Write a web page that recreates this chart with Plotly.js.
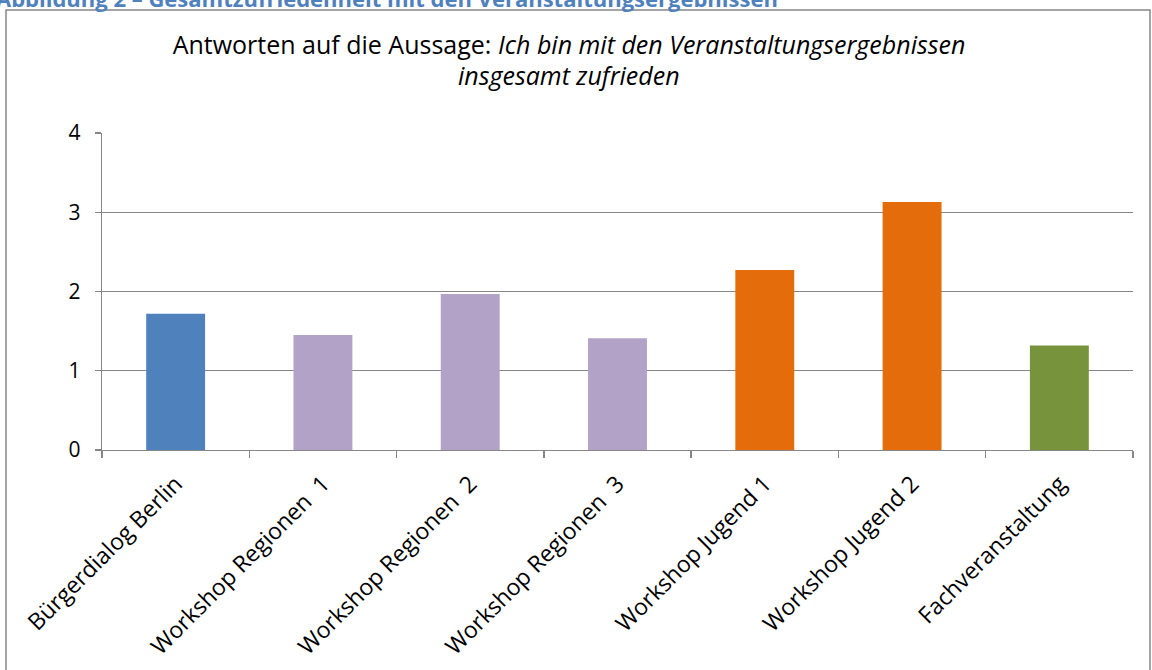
<!DOCTYPE html>
<html>
<head>
<meta charset="utf-8">
<script src="https://cdn.plot.ly/plotly-3.0.1.min.js"></script>
<style>html,body{margin:0;padding:0;background:#fff;}#chart{width:1152px;height:670px;}</style>
</head>
<body>
<div id="chart"></div>
<script>
const categories = ["Bürgerdialog Berlin", "Workshop Regionen\u00A0\u00A01", "Workshop Regionen\u00A0\u00A02", "Workshop Regionen\u00A0\u00A03", "Workshop Jugend 1", "Workshop Jugend 2", "Fachveranstaltung"];
const values = [1.72, 1.45, 1.97, 1.41, 2.27, 3.13, 1.32];
const barColors = ["#4F81BD", "#B2A2C7", "#B2A2C7", "#B2A2C7", "#E46C0A", "#E46C0A", "#77933C"];
const yTicks = [0, 1, 2, 3, 4];
const titleLine1 = "Antworten auf die Aussage: <i>Ich bin mit den Veranstaltungsergebnissen</i>";
const titleLine2 = "<i>insgesamt zufrieden</i>";
const figureCaption = "<b>Abbildung 2 – Gesamtzufriedenheit mit den Veranstaltungsergebnissen</b>";

const W = 1152, H = 670;
const L = 102, R = 19, T = 133, B = 220;
const pw = W - L - R, ph = H - T - B;
function px(x){ return (x - L) / pw; }
function py(y){ return (H - B - y) / ph; }

const font = "'Open Sans', sans-serif";
const grey = "#868686";

Plotly.newPlot("chart", [{
  type: "bar",
  x: categories,
  y: values,
  marker: {color: barColors},
  hoverinfo: "skip"
}], {
  width: W, height: H,
  margin: {l: L, r: R, t: T, b: B, pad: 0},
  paper_bgcolor: "#fff", plot_bgcolor: "#fff",
  bargap: 0.6,
  showlegend: false,
  font: {family: font, color: "#000"},
  title: {
    text: titleLine1,
    font: {size: 25, family: font, color: "#000"},
    x: 569 / W, xanchor: "center",
    y: 1 - 45 / H, yanchor: "middle"
  },
  xaxis: {
    type: "category",
    tickangle: -45,
    tickfont: {size: 23, family: font, color: "#000"},
    ticks: "outside", tickson: "boundaries", ticklen: 7, tickcolor: grey, tickwidth: 1.3,
    showline: true, linecolor: grey, linewidth: 1.3,
    showgrid: false, zeroline: false,
    ticklabelstandoff: 10,
    fixedrange: true
  },
  yaxis: {
    range: [0, 4],
    tickvals: yTicks,
    ticktext: yTicks.map(String),
    tickfont: {size: 21, family: font, color: "#000"},
    ticks: "outside", ticklen: 6, tickcolor: grey, tickwidth: 1.3,
    showline: true, linecolor: grey, linewidth: 1.3,
    showgrid: true, gridcolor: grey, gridwidth: 1.3,
    zeroline: false,
    ticklabelstandoff: 10,
    fixedrange: true
  },
  shapes: [{
    type: "rect", xref: "paper", yref: "paper",
    x0: px(6), x1: px(1150), y0: py(700), y1: py(10),
    line: {color: grey, width: 1.5}, fillcolor: "rgba(0,0,0,0)", layer: "below"
  }],
  annotations: [{
    text: titleLine2,
    xref: "paper", yref: "paper",
    x: px(569), y: py(75), xanchor: "center", yanchor: "middle",
    showarrow: false,
    font: {size: 25, family: font, color: "#000"}
  }, {
    text: figureCaption,
    xref: "paper", yref: "paper",
    x: px(-6), y: py(-2), xanchor: "left", yanchor: "middle",
    showarrow: false,
    font: {size: 22, family: font, color: "#4F81BD"}
  }]
}, {displayModeBar: false, staticPlot: true});
</script>
</body>
</html>
